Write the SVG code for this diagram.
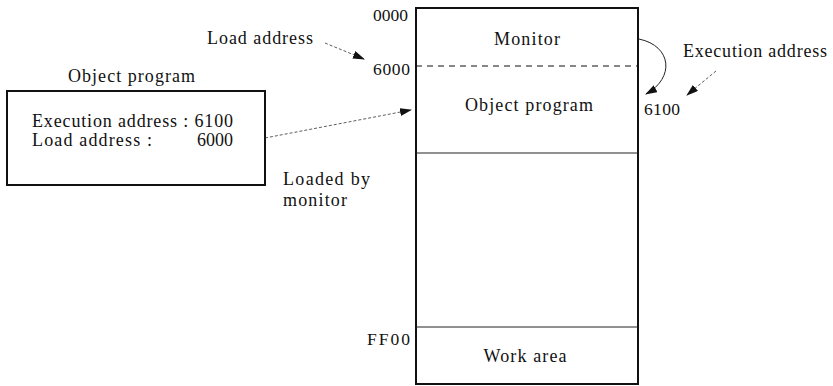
<svg xmlns="http://www.w3.org/2000/svg" width="833" height="386" viewBox="0 0 833 386">
<style>
text{font-family:"Liberation Serif","Times New Roman",serif;fill:#111;font-size:18px}
.num{font-size:17.5px}
.box{fill:none;stroke:#111;stroke-width:2}
.thin{fill:none;stroke:#222;stroke-width:1}
.dash{fill:none;stroke:#111;stroke-width:1.2;stroke-dasharray:6,5}
.lead{fill:none;stroke:#333;stroke-width:0.8;stroke-dasharray:3,2}
.c{text-anchor:middle}
</style>
<defs>
<marker id="ah" viewBox="0 0 12 8" refX="11" refY="4" markerWidth="12" markerHeight="8" markerUnits="userSpaceOnUse" orient="auto">
<path d="M0,0 L12,4 L0,8 Z" fill="#111"/>
</marker>
</defs>
<g id="memory">
<rect class="box" x="416" y="8" width="222" height="376"/>
<line class="dash" x1="416" y1="66" x2="638" y2="66"/>
<line class="thin" x1="416" y1="153" x2="638" y2="153"/>
<line class="thin" x1="416" y1="327" x2="638" y2="327"/>
<text class="c" x="527" y="45" textLength="66" lengthAdjust="spacing">Monitor</text>
<text class="c" x="529" y="111" textLength="128" lengthAdjust="spacing">Object program</text>
<text class="c" x="525" y="362" textLength="83" lengthAdjust="spacing">Work area</text>
<text class="num" x="373" y="21" textLength="35">0000</text>
<text class="num" x="373" y="75" textLength="37">6000</text>
<text class="num" x="367" y="345" textLength="43">FF00</text>
</g>
<g id="object-program">
<text x="68" y="82" textLength="127" lengthAdjust="spacing">Object program</text>
<rect class="box" x="7" y="91" width="258" height="94"/>
<text x="32" y="127" textLength="201" lengthAdjust="spacing">Execution address : 6100</text>
<text x="32" y="146" textLength="120" lengthAdjust="spacing">Load address :</text>
<text x="197" y="146" textLength="36">6000</text>
</g>
<g id="labels">
<text x="207" y="44" textLength="106" lengthAdjust="spacing">Load address</text>
<text x="683" y="57" textLength="144" lengthAdjust="spacing">Execution address</text>
<text class="num" x="644" y="115" textLength="36">6100</text>
<text x="283" y="185" textLength="87" lengthAdjust="spacing">Loaded by</text>
<text x="283" y="206" textLength="64" lengthAdjust="spacing">monitor</text>
</g>
<g id="connectors">
<path class="lead" d="M325,43 L364,59" marker-end="url(#ah)"/>
<path class="lead" d="M265,138 L411,110" marker-end="url(#ah)"/>
<path class="lead" d="M716,71 L687,95" marker-end="url(#ah)"/>
<path class="thin" d="M639,39 C672,46 675,78 646,94" marker-end="url(#ah)"/>
</g>
</svg>
